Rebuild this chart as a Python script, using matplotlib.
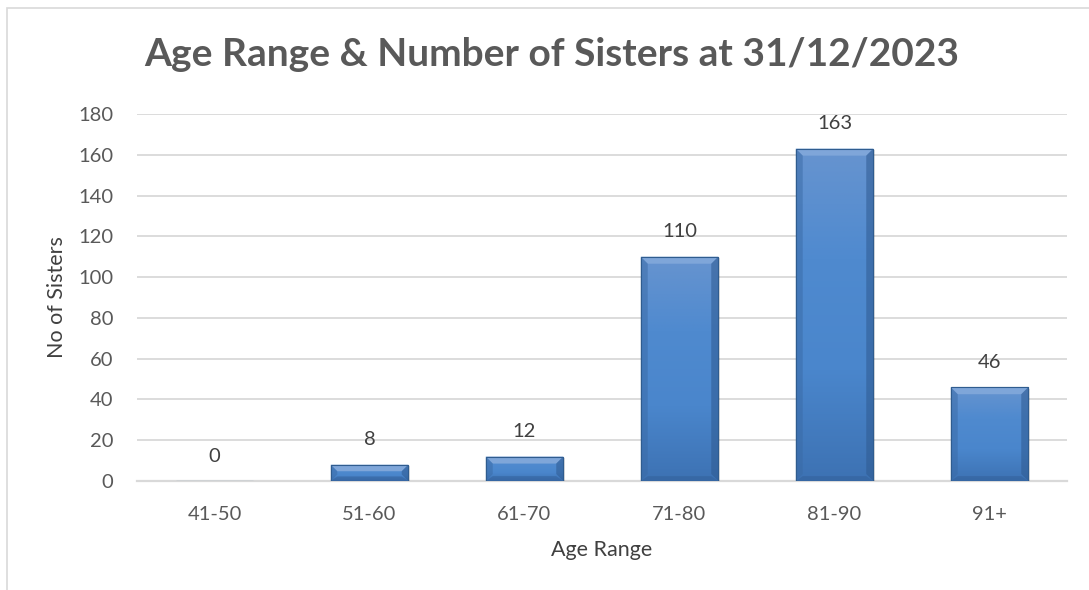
import numpy as np
import matplotlib
matplotlib.use("Agg")
import matplotlib.pyplot as plt
from matplotlib.patches import Rectangle, Polygon
from matplotlib.colors import LinearSegmentedColormap

age_ranges = ["41-50", "51-60", "61-70", "71-80", "81-90", "91+"]
sisters = [0, 8, 12, 110, 163, 46]
y_ticks = [0, 20, 40, 60, 80, 100, 120, 140, 160, 180]

title = "Age Range & Number of Sisters at 31/12/2023"
text_grey = "#595959"
grid_grey = "#d9d9d9"

plt.rcParams["font.family"] = ["Lato", "DejaVu Sans"]

fig = plt.figure(figsize=(10.89, 5.90), dpi=100)
ax = fig.add_axes([0.1258, 0.1847, 0.854, 0.6221])
ax.set_xlim(-0.5, len(age_ranges) - 0.5)
ax.set_ylim(0, 180)

x = np.arange(len(age_ranges))
bars = ax.bar(x, sisters, width=0.5, color="#4a86cc", edgecolor="#2f5c8f",
              linewidth=0.8, zorder=3)

# bevel size: about 7 px, expressed in data units
px_x = 1 / 155.0
px_y = 180 / 367.0
bev_x = 7 * px_x
bev_y = 7 * px_y

grad = LinearSegmentedColormap.from_list("bev", ["#3d72b3", "#4a86cc", "#4f8acf", "#6794cf"])
shade = np.linspace(0, 1, 256).reshape(-1, 1)
for b in bars:
    h = b.get_height()
    if h <= 0:
        continue
    x0, x1 = b.get_x(), b.get_x() + b.get_width()
    # soft shadow
    ax.add_patch(Rectangle((x0 + 1.5 * px_x, -1.5 * px_y), x1 - x0, h, facecolor="#000000",
                           alpha=0.12, edgecolor="none", zorder=2.9))
    im = ax.imshow(shade, cmap=grad, aspect="auto", origin="lower",
                   extent=[x0, x1, 0, h], zorder=3.5)
    im.set_clip_path(b)
    by = min(bev_y, h / 2.5)
    bx = min(bev_x, by / px_y * px_x)
    # top light bevel
    ax.add_patch(Polygon([(x0, h), (x1, h), (x1 - bx, h - by), (x0 + bx, h - by)],
                         closed=True, facecolor="#7fa6d9", edgecolor="none", zorder=3.6))
    # side bevels
    ax.add_patch(Polygon([(x0, 0), (x0, h), (x0 + bx, h - by), (x0 + bx, by)],
                         closed=True, facecolor="#3a6aa5", alpha=0.5, edgecolor="none", zorder=3.6))
    ax.add_patch(Polygon([(x1, 0), (x1, h), (x1 - bx, h - by), (x1 - bx, by)],
                         closed=True, facecolor="#2f5a90", alpha=0.55, edgecolor="none", zorder=3.6))
    # bottom bevel
    ax.add_patch(Polygon([(x0, 0), (x1, 0), (x1 - bx, by * 0.7), (x0 + bx, by * 0.7)],
                         closed=True, facecolor="#335f98", alpha=0.5, edgecolor="none", zorder=3.6))
    ax.add_patch(Rectangle((x0, 0), x1 - x0, h, fill=False,
                           edgecolor="#2f5c8f", linewidth=0.8, zorder=3.8))

for xi, v in zip(x, sisters):
    ax.annotate(str(v), (xi, v), xytext=(0, 18), textcoords="offset points",
                ha="center", va="center", fontsize=14.5, color="#404040")

ax.set_yticks(y_ticks)
ax.set_xticks(x)
ax.set_xticklabels(age_ranges)
ax.tick_params(axis="both", length=0, labelsize=14.5, colors=text_grey)
ax.tick_params(axis="y", pad=17)
ax.tick_params(axis="x", pad=18)
ax.grid(axis="y", color=grid_grey, linewidth=1.3, zorder=0)
ax.set_axisbelow(True)
for s in ["top", "right", "left"]:
    ax.spines[s].set_visible(False)
ax.spines["bottom"].set_color(grid_grey)
ax.spines["bottom"].set_linewidth(1.6)

ax.set_ylabel("No of Sisters", fontsize=15.5, color="#404040", labelpad=8)
ax.set_xlabel("Age Range", fontsize=15.5, color="#404040", labelpad=12)

fig.text(0.507, 0.908, title, ha="center", va="center", fontsize=28,
         fontweight="bold", color=text_grey)

# chart area border (cut by image edges on right and bottom)
fig.add_artist(Rectangle((7 / 1089, -0.1), 1.2, 1.1 - 8 / 590, transform=fig.transFigure,
                         fill=False, edgecolor=grid_grey, linewidth=1.2))

fig.savefig("out.png", dpi=100)
plt.close(fig)
